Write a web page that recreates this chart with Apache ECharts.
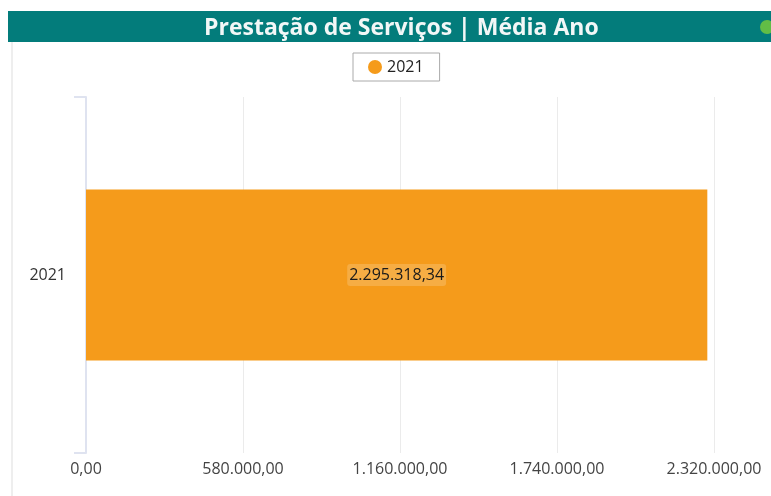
<!DOCTYPE html>
<html>
<head>
<meta charset="utf-8">
<script src="https://cdn.jsdelivr.net/npm/echarts@6/dist/echarts.min.js"></script>
<style>
  html, body { margin: 0; padding: 0; background: #fff; }
  #chart { width: 771px; height: 496px; }
</style>
</head>
<body>
<div id="chart"></div>
<script>
const titleText = "Prestação de Serviços | Média Ano";
const categories = ["2021"];
const seriesName = "2021";
const values = [2295318.34];
const axisMax = 2320000;
const axisStep = 580000;

// formato pt-BR: 1.234.567,89
function fmtBR(v) {
  const parts = Number(v).toFixed(2).split(".");
  parts[0] = parts[0].replace(/\B(?=(\d{3})+(?!\d))/g, ".");
  return parts[0] + "," + parts[1];
}

const myChart = echarts.init(document.getElementById("chart"), null, { renderer: "canvas" });

const option = {
  animation: false,
  textStyle: { fontFamily: "Open Sans, Noto Sans, sans-serif" },
  graphic: [
    // faixa do titulo
    { type: "rect", z: 0, shape: { x: 8, y: 11, width: 763, height: 31 }, style: { fill: "#037c7b" } },
    { type: "circle", z: 1, shape: { cx: 767, cy: 27, r: 7 }, style: { fill: "#62bd46" } },
    { type: "line", z: 0, shape: { x1: 12, y1: 42, x2: 12, y2: 496 }, style: { stroke: "#eeeeee", lineWidth: 2 } },
  ],
  title: {
    text: titleText,
    left: 199,
    top: 12,
    textStyle: {
      color: "#f2f7f7",
      fontSize: 23,
      fontWeight: "bold",
      fontFamily: "Open Sans, sans-serif",
    },
  },
  legend: {
    data: [seriesName],
    top: 53,
    left: 353,
    icon: "circle",
    itemWidth: 14,
    itemHeight: 14,
    itemGap: 8,
    borderColor: "#aaaaaa",
    borderWidth: 1,
    padding: [6, 16, 6, 15],
    textStyle: { color: "#222", fontSize: 16 },
  },
  grid: {
    left: 86,
    right: 57,
    top: 97,
    bottom: 43,
  },
  xAxis: {
    type: "value",
    min: 0,
    max: axisMax,
    interval: axisStep,
    axisLine: { show: false },
    axisTick: { show: false },
    splitLine: { lineStyle: { color: "#ebebeb" } },
    axisLabel: {
      formatter: fmtBR,
      color: "#444",
      fontSize: 16,
      margin: 8,
    },
  },
  yAxis: {
    type: "category",
    data: categories,
    axisLine: { lineStyle: { color: "#dfe3f0", width: 2 } },
    axisTick: { show: true, length: 12, lineStyle: { color: "#dfe3f0", width: 2 } },
    axisLabel: { color: "#333", fontSize: 16, margin: 20 },
  },
  series: [
    {
      name: seriesName,
      type: "bar",
      data: values,
      barWidth: "48%",
      itemStyle: { color: "#f59b1b" },
      label: {
        show: true,
        position: "inside",
        formatter: (p) => fmtBR(p.value),
        color: "#1a1a1a",
        fontSize: 16,
        backgroundColor: "rgba(255,255,255,0.18)",
        borderRadius: 3,
        padding: [3, 2],
      },
    },
  ],
};

myChart.setOption(option);
</script>
</body>
</html>
